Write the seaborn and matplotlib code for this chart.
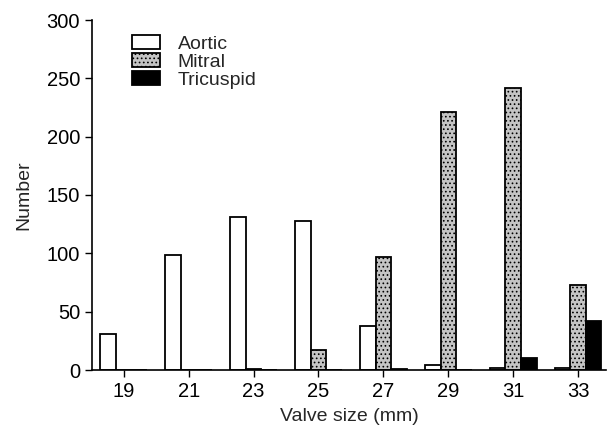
import matplotlib
matplotlib.use("Agg")
import matplotlib.pyplot as plt
import seaborn as sns
import pandas as pd

sizes = ["19", "21", "23", "25", "27", "29", "31", "33"]
aortic = [31, 99, 131, 128, 38, 4, 2, 2]
mitral = [0, 0, 1, 17, 97, 221, 242, 73]
tricuspid = [0, 0, 0, 0, 1, 0, 10, 42]
series = ["Aortic", "Mitral", "Tricuspid"]

df = pd.DataFrame({
    "size": sizes * 3,
    "valve": [s for s in series for _ in sizes],
    "count": aortic + mitral + tricuspid,
})

sns.set_style("ticks")
plt.rcParams["font.family"] = ["Liberation Sans", "DejaVu Sans"]
plt.rcParams["hatch.color"] = "#4a4a4a"
plt.rcParams["hatch.linewidth"] = 0.7

fig = plt.figure(figsize=(6.13, 4.38), dpi=100)
ax = fig.add_axes([92 / 613, 68 / 438, 514 / 613, 350 / 438])

palette = {"Aortic": "white", "Mitral": "#c4c4c4", "Tricuspid": "black"}
sns.barplot(data=df, x="size", y="count", hue="valve", order=sizes,
            hue_order=series, palette=palette, width=0.72, dodge=True,
            edgecolor="black", linewidth=1.3, saturation=1, ax=ax)

for bar_container, name in zip(ax.containers, series):
    for p in bar_container:
        if name == "Mitral":
            p.set_hatch("....")

ax.set_xlim(-0.49, 7.43)
ax.set_ylim(0, 300)
ax.set_yticks([0, 50, 100, 150, 200, 250, 300])
ax.set_xlabel("Valve size (mm)", fontsize=14, labelpad=5)
ax.set_ylabel("Number", fontsize=14, labelpad=10)
ax.tick_params(axis="both", labelsize=14.5, direction="out", length=5, width=1, colors="black")
for s in ["top", "right"]:
    ax.spines[s].set_visible(False)
for s in ["left", "bottom"]:
    ax.spines[s].set_linewidth(1.2)
    ax.spines[s].set_color("black")

handles, labels = ax.get_legend_handles_labels()
for h, name in zip(handles, labels):
    if name == "Mitral":
        h.set_hatch("....")
leg = ax.legend(handles, labels, loc="upper left", bbox_to_anchor=(0.078, 0.957),
                frameon=False, fontsize=14, handlelength=1.45, handleheight=0.72,
                handletextpad=0.9, labelspacing=0.02, borderaxespad=0,
                borderpad=0)

fig.savefig("out.png", dpi=100)
